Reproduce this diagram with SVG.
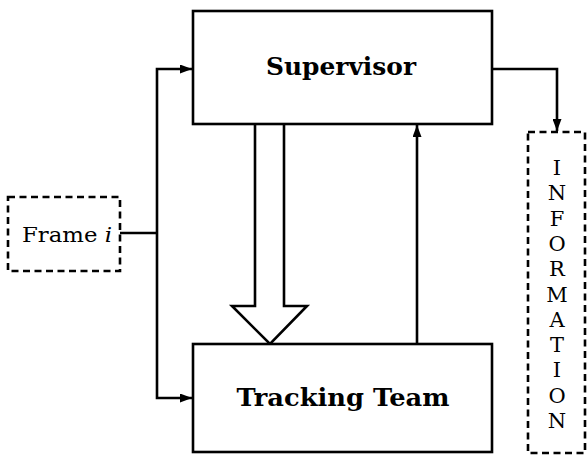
<svg xmlns="http://www.w3.org/2000/svg" width="587" height="455" viewBox="0 0 587 455">
<style>
.box{fill:#fff;stroke:#000;stroke-width:2.6}
.dash{fill:#fff;stroke:#000;stroke-width:2.6;stroke-dasharray:7 4.5}
.line{fill:none;stroke:#000;stroke-width:2.6}
.bold{font-family:"DejaVu Serif","Liberation Serif",serif;font-weight:bold;fill:#000}
.reg{font-family:"DejaVu Serif","Liberation Serif",serif;fill:#000}
</style>
<defs>
<marker id="ah" markerWidth="12" markerHeight="9" refX="12" refY="4.5" orient="auto" markerUnits="userSpaceOnUse">
<path d="M0,0 L12,4.5 L0,9 Z" fill="#000"/>
</marker>
</defs>
<rect width="587" height="455" fill="#fff"/>
<g id="connectors">
<path class="line" d="M120,233 H157"/>
<path class="line" d="M157,233 V69 H192" marker-end="url(#ah)"/>
<path class="line" d="M157,233 V398 H192" marker-end="url(#ah)"/>
<path class="line" d="M417,344 V125" marker-end="url(#ah)"/>
<path class="line" d="M492,69 H557 V131" marker-end="url(#ah)"/>
<path class="line" d="M255,124 V306 H232 L270,344 L307,306 H284 V124"/>
</g>
<g id="supervisor">
<rect class="box" x="193" y="11" width="299" height="113"/>
<text class="bold" x="341" y="75" font-size="24" text-anchor="middle" textLength="150" lengthAdjust="spacingAndGlyphs">Supervisor</text>
</g>
<g id="tracking">
<rect class="box" x="193" y="344" width="299" height="108"/>
<text class="bold" x="343" y="406" font-size="25" text-anchor="middle" textLength="213" lengthAdjust="spacingAndGlyphs">Tracking Team</text>
</g>
<g id="frame">
<rect class="dash" x="8" y="197" width="112" height="74"/>
<text class="reg" x="22" y="242" font-size="21" textLength="90" lengthAdjust="spacingAndGlyphs">Frame <tspan font-style="italic">i</tspan></text>
</g>
<g id="information">
<rect class="dash" x="528" y="132" width="57" height="321"/>
<g class="reg" font-size="21" text-anchor="middle">
<text x="557" y="175">I</text>
<text x="557" y="200">N</text>
<text x="557" y="226">F</text>
<text x="557" y="251">O</text>
<text x="557" y="276">R</text>
<text x="557" y="302">M</text>
<text x="557" y="327">A</text>
<text x="557" y="352">T</text>
<text x="557" y="377">I</text>
<text x="557" y="403">O</text>
<text x="557" y="428">N</text>
</g>
</g>
</svg>
